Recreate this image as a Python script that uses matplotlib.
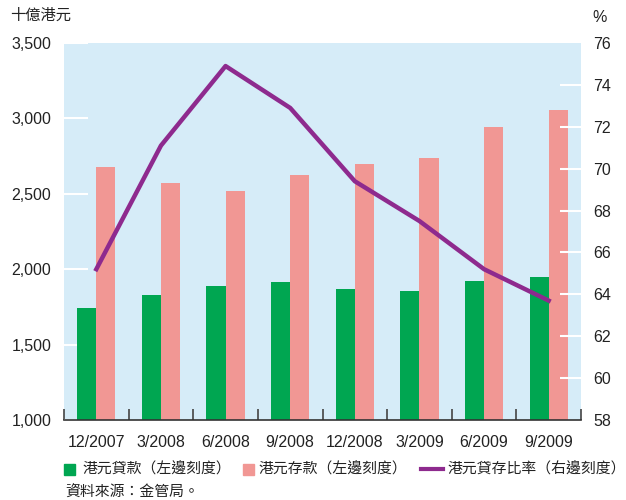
import matplotlib.pyplot as plt
import numpy as np
from matplotlib.patches import Rectangle
from matplotlib.lines import Line2D

plt.rcParams['font.family'] = ['Liberation Sans', 'Noto Sans CJK TC']

quarters = ['12/2007', '3/2008', '6/2008', '9/2008', '12/2008', '3/2009', '6/2009', '9/2009']
hkd_loans = [1745, 1830, 1890, 1915, 1870, 1855, 1922, 1948]        # 十億港元
hkd_deposits = [2675, 2572, 2519, 2625, 2698, 2737, 2943, 3056]     # 十億港元
ld_ratio = [65.2, 71.1, 74.9, 72.9, 69.4, 67.5, 65.2, 63.7]         # %

green = '#00A651'
pink = '#F19794'
purple = '#8E2A8E'
bg = '#D6ECF8'
txt = '#222222'
W, H = 626, 500

fig = plt.figure(figsize=(W / 100, H / 100), dpi=100)
ax = fig.add_axes([64 / W, 1 - 420 / H, 517 / W, 377 / H])
ax.set_facecolor(bg)

x = np.arange(len(quarters))
w = 0.295
ax.bar(x - w / 2, hkd_loans, w, color=green, zorder=2)
ax.bar(x + w / 2, hkd_deposits, w, color=pink, zorder=2)

ax.set_xlim(-0.5, len(quarters) - 0.5)
ax.set_ylim(1000, 3500)
ax.set_yticks(range(1000, 3501, 500))
ax.set_yticklabels([f'{v:,}' for v in range(1000, 3501, 500)], fontsize=11.5, color=txt)
ax.tick_params(axis='y', direction='in', length=17, width=1.5, color='white', pad=9)
for t in (ax.yaxis.get_major_ticks()[0], ax.yaxis.get_major_ticks()[-1]):
    t.tick1line.set_visible(False)

ax.set_xticks(x)
ax.set_xticklabels(quarters, fontsize=11.5, color=txt)
ax.tick_params(axis='x', length=0, pad=11)
ax.set_xticks(np.arange(-0.5, len(quarters), 1), minor=True)
ax.tick_params(axis='x', which='minor', direction='in', length=8, width=1.2, color='#444444')

for s in ['top', 'left', 'right']:
    ax.spines[s].set_visible(False)
ax.spines['bottom'].set_color('#333333')
ax.spines['bottom'].set_linewidth(1.2)

ax2 = ax.twinx()
ax2.plot(x, ld_ratio, color=purple, lw=3.2, zorder=3)
ax2.set_ylim(58, 76)
ax2.set_yticks(range(58, 77, 2))
ax2.set_yticklabels([str(v) for v in range(58, 77, 2)], fontsize=11.5, color=txt)
ax2.tick_params(axis='y', direction='in', length=15, width=1.5, color='white', pad=9)
for t in (ax2.yaxis.get_major_ticks()[0], ax2.yaxis.get_major_ticks()[-1]):
    t.tick2line.set_visible(False)
for s in ['top', 'left', 'right', 'bottom']:
    ax2.spines[s].set_visible(False)

fig.text(10 / W, 1 - 16 / H, '十億港元', fontsize=11, va='center', ha='left', color=txt)
fig.text(600 / W, 1 - 17 / H, '%', fontsize=11.5, va='center', ha='center', color=txt)

# legend row, laid out by hand
ly = 1 - 469 / H
sq = 11
fig.add_artist(Rectangle((64 / W, ly - sq / 2 / H), sq / W, sq / H, color=green, transform=fig.transFigure))
fig.text(82 / W, ly, '港元貸款（左邊刻度）', fontsize=10.7, va='center', ha='left', color=txt)
fig.add_artist(Rectangle((243 / W, ly - sq / 2 / H), sq / W, sq / H, color=pink, transform=fig.transFigure))
fig.text(258 / W, ly, '港元存款（左邊刻度）', fontsize=10.7, va='center', ha='left', color=txt)
fig.add_artist(Line2D([421 / W, 443 / W], [ly, ly], color=purple, lw=3, transform=fig.transFigure))
fig.text(447 / W, ly, '港元貸存比率（右邊刻度）', fontsize=10.7, va='center', ha='left', color=txt)

fig.text(65 / W, 1 - 493 / H, '資料來源：金管局。', fontsize=10.7, va='center', ha='left', color=txt)

fig.savefig('out.png', dpi=100)
